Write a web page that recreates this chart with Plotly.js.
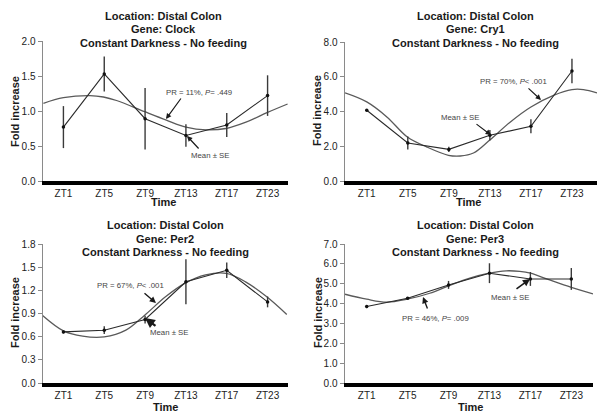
<!DOCTYPE html>
<html>
<head>
<meta charset="utf-8">
<script src="https://cdn.plot.ly/plotly-3.0.1.min.js"></script>
<style>html,body{margin:0;padding:0;background:#fff;}#chart{width:602px;height:419px;}</style>
</head>
<body>
<div id="chart"></div>
<script>
// ---- data ----
const ztLabels = ['ZT1','ZT5','ZT9','ZT13','ZT17','ZT23'];
const ztIndex = [0,1,2,3,4,5];

const clockMean = [0.77, 1.53, 0.89, 0.65, 0.80, 1.22];
const clockSE   = [0.30, 0.25, 0.44, 0.16, 0.17, 0.29];
const clockFitX = [-0.49, 0, 0.65, 0.98, 1.3, 1.99, 2.52, 3.0, 3.5, 3.98, 4.47, 5.0, 5.49];
const clockFitY = [1.11, 1.19, 1.22, 1.20, 1.15, 0.99, 0.87, 0.77, 0.73, 0.75, 0.84, 0.98, 1.10];

const cry1Mean = [4.07, 2.19, 1.82, 2.63, 3.15, 6.33];
const cry1SE   = [0.05, 0.37, 0.15, 0.30, 0.40, 0.70];
const cry1FitX = [-0.53, 0, 0.49, 0.99, 1.46, 1.99, 2.28, 2.6, 2.99, 3.5, 4.0, 4.55, 5.0, 5.28, 5.61];
const cry1FitY = [5.07, 4.55, 3.69, 2.53, 1.96, 1.48, 1.44, 1.61, 2.34, 3.40, 4.26, 4.93, 5.26, 5.26, 5.07];

const per2Mean = [0.662, 0.684, 0.822, 1.311, 1.46, 1.05];
const per2SE   = [0.02, 0.05, 0.05, 0.29, 0.10, 0.07];
const per2FitX = [-0.52, 0, 0.47, 1.0, 1.53, 1.99, 2.5, 2.97, 3.48, 3.99, 4.46, 4.98, 5.47];
const per2FitY = [0.878, 0.675, 0.606, 0.597, 0.684, 0.878, 1.116, 1.29, 1.40, 1.42, 1.31, 1.116, 0.887];

const per3Mean = [3.85, 4.27, 4.94, 5.53, 5.24, 5.24];
const per3SE   = [0.08, 0.06, 0.20, 0.50, 0.35, 0.55];
const per3FitX = [-0.53, 0, 0.49, 0.99, 1.54, 2.0, 2.52, 2.99, 3.41, 3.74, 4.0, 4.47, 5.0, 5.53];
const per3FitY = [4.47, 4.22, 4.07, 4.22, 4.52, 4.89, 5.28, 5.53, 5.65, 5.62, 5.53, 5.19, 4.82, 4.49];

const genes = ['Clock','Cry1','Per2','Per3'];
const prTexts = ['PR = 11%, <i>P</i>= .449','PR = 70%, <i>P</i>< .001','PR = 67%, <i>P</i>< .001','PR = 46%, <i>P</i>= .009'];

// ---- build ----
const W = 602, H = 419;
const px = v => v / W;
const py = v => 1 - v / H;

const panels = [
  {mean: clockMean, se: clockSE, fx: clockFitX, fy: clockFitY, xa:'x',  ya:'y'},
  {mean: cry1Mean,  se: cry1SE,  fx: cry1FitX,  fy: cry1FitY,  xa:'x2', ya:'y2'},
  {mean: per2Mean,  se: per2SE,  fx: per2FitX,  fy: per2FitY,  xa:'x3', ya:'y3'},
  {mean: per3Mean,  se: per3SE,  fx: per3FitX,  fy: per3FitY,  xa:'x4', ya:'y4'}
];

const traces = [];
panels.forEach(p => {
  traces.push({
    x: p.fx, y: p.fy, xaxis: p.xa, yaxis: p.ya, type: 'scatter', mode: 'lines',
    line: {color: '#5a5a5a', width: 1.3, shape: 'spline', smoothing: 1}, hoverinfo: 'skip', cliponaxis: false
  });
  traces.push({
    x: ztIndex, y: p.mean, xaxis: p.xa, yaxis: p.ya, type: 'scatter', mode: 'lines+markers',
    line: {color: '#2a2a2a', width: 1.1},
    marker: {color: '#111', size: 3.5},
    error_y: {type: 'data', array: p.se, visible: true, color: '#3a3a3a', thickness: 1.4, width: 0},
    cliponaxis: false
  });
});

const yBase = {
  showgrid: false, zeroline: false, showline: true, linecolor: '#8a8a8a', linewidth: 1.5,
  ticks: 'outside', ticklen: 4, tickwidth: 1, tickcolor: '#8a8a8a', tickformat: '.1f',
  tickfont: {family: 'Liberation Sans, Arial, sans-serif', size: 10, color: '#222'}, fixedrange: true
};
const xBase = {
  showgrid: false, zeroline: false, showline: true, linecolor: '#000', linewidth: 4,
  ticks: '', tickvals: ztIndex, ticktext: ztLabels,
  tickfont: {family: 'Liberation Sans, Arial, sans-serif', size: 10, color: '#222'}, fixedrange: true
};

const layout = {
  width: W, height: H, margin: {l: 0, r: 0, t: 0, b: 0},
  paper_bgcolor: '#fff', plot_bgcolor: '#fff', showlegend: false,
  xaxis:  Object.assign({}, xBase, {domain: [px(43), px(288)], range: [-0.5, 5.5], anchor: 'y'}),
  xaxis2: Object.assign({}, xBase, {domain: [px(345), px(597)], range: [-0.53, 5.61], anchor: 'y2'}),
  xaxis3: Object.assign({}, xBase, {domain: [px(43), px(288)], range: [-0.5, 5.5], anchor: 'y3'}),
  xaxis4: Object.assign({}, xBase, {domain: [px(345), px(593)], range: [-0.53, 5.53], anchor: 'y4'}),
  yaxis:  Object.assign({}, yBase, {domain: [py(181), py(41)], range: [0, 2.0], dtick: 0.5, anchor: 'x'}),
  yaxis2: Object.assign({}, yBase, {domain: [py(181), py(42)], range: [0, 8.0], dtick: 2, anchor: 'x2'}),
  yaxis3: Object.assign({}, yBase, {domain: [py(383), py(244)], range: [0, 1.8], dtick: 0.3, anchor: 'x3'}),
  yaxis4: Object.assign({}, yBase, {domain: [py(383), py(244)], range: [0, 7.0], dtick: 1, anchor: 'x4'}),
  annotations: []
};

const boldFont = {family: 'Liberation Sans, Arial, sans-serif', size: 11, color: '#1a1a1a'};
const smallFont = {family: 'Liberation Sans, Arial, sans-serif', size: 7.8, color: '#444'};

// titles and axis titles (page-pixel placement)
const titleCX = [163, 475, 165, 475];
const titleTop = [16, 16, 225, 225];
const timeCX = [163, 468, 165, 470];
const timeY = [202, 202, 407, 407];
const foldCX = [15, 317, 15, 318];
const foldCY = [112, 110, 313, 313];
genes.forEach((g, i) => {
  const lines = ['Location: Distal Colon', 'Gene: ' + g, 'Constant Darkness - No feeding'];
  lines.forEach((t, k) => {
    layout.annotations.push({text: '<b>' + t + '</b>', xref: 'paper', yref: 'paper',
      x: px(titleCX[i]), y: py(titleTop[i] + k * 13.5), xanchor: 'center', yanchor: 'middle',
      showarrow: false, font: boldFont});
  });
  layout.annotations.push({text: '<b>Time</b>', xref: 'paper', yref: 'paper',
    x: px(timeCX[i]), y: py(timeY[i]), xanchor: 'center', yanchor: 'middle', showarrow: false, font: boldFont});
  layout.annotations.push({text: '<b>Fold increase</b>', xref: 'paper', yref: 'paper', textangle: -90,
    x: px(foldCX[i]), y: py(foldCY[i]), xanchor: 'center', yanchor: 'middle', showarrow: false, font: boldFont});
});

// PR labels and Mean ± SE labels with arrows
const prPos   = [[199, 92], [513, 81], [130, 285], [435, 318]];
const prTail  = [[182, 97], [527, 87], [143, 292], [428, 310]];
const prHead  = [[166, 119], [541, 100], [156, 303], [423, 297]];
const mePos   = [[210, 155], [460, 117], [169, 332], [510, 297]];
const meTail  = [[200, 150], [475, 123], [157, 327], [515, 290]];
const meHead  = [[187, 136], [491, 135], [145, 318], [530, 279]];
const arrowW  = [1.2, 1.2, 1.4, 1.4];
const meArrowW = [1.2, 1.2, 2.2, 1.6];

genes.forEach((g, i) => {
  layout.annotations.push({text: prTexts[i], xref: 'paper', yref: 'paper',
    x: px(prPos[i][0]), y: py(prPos[i][1]), xanchor: 'center', yanchor: 'middle', showarrow: false, font: smallFont});
  layout.annotations.push({text: 'Mean ± SE', xref: 'paper', yref: 'paper',
    x: px(mePos[i][0]), y: py(mePos[i][1]), xanchor: 'center', yanchor: 'middle', showarrow: false, font: smallFont});
  layout.annotations.push({text: '', xref: 'paper', yref: 'paper',
    x: px(prHead[i][0]), y: py(prHead[i][1]), ax: prTail[i][0] - prHead[i][0], ay: prTail[i][1] - prHead[i][1],
    showarrow: true, arrowhead: 2, arrowsize: 0.9, arrowwidth: arrowW[i], arrowcolor: '#1a1a1a', standoff: 0, startstandoff: 0});
  layout.annotations.push({text: '', xref: 'paper', yref: 'paper',
    x: px(meHead[i][0]), y: py(meHead[i][1]), ax: meTail[i][0] - meHead[i][0], ay: meTail[i][1] - meHead[i][1],
    showarrow: true, arrowhead: 2, arrowsize: 0.9, arrowwidth: meArrowW[i], arrowcolor: '#1a1a1a', standoff: 0, startstandoff: 0});
});

Plotly.newPlot('chart', traces, layout, {displayModeBar: false, staticPlot: true});
</script>
</body>
</html>
